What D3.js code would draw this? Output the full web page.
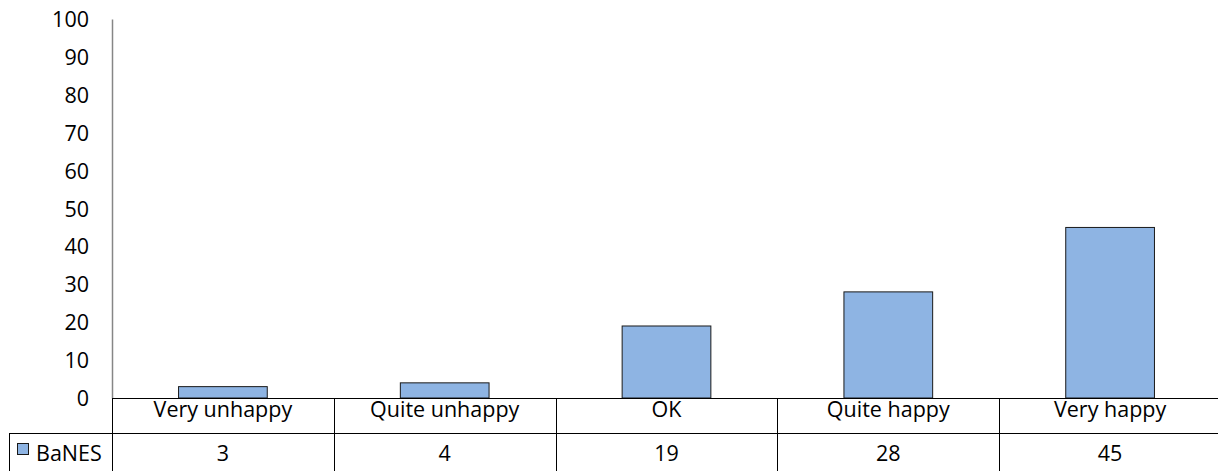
<!DOCTYPE html>
<html><head><meta charset="utf-8">
<script src="https://cdn.jsdelivr.net/npm/d3@7"></script>
<style>
html,body{margin:0;padding:0;background:#fff;}
svg{display:block;font-family:"Open Sans",sans-serif;}
</style></head>
<body>
<svg id="c" width="1218" height="471"></svg>
<script>
const categories = ["Very unhappy","Quite unhappy","OK","Quite happy","Very happy"];
const seriesName = "BaNES";
const values = [3,4,19,28,45];
const yTicks = [0,10,20,30,40,50,60,70,80,90,100];

(function(){
const svg = d3.select("#c");
const mLeft = 112, mRight = 1221, mTop = 19, base = 398;
const row1 = 433, row2 = 471;
const x = d3.scaleBand().domain(categories).range([mLeft, mRight]).padding(0);
const y = d3.scaleLinear().domain([0,100]).range([base, mTop]);
const font = 21.5;

// y axis
const ya = svg.append("g").attr("transform",`translate(${mLeft},0)`)
  .call(d3.axisLeft(y).tickValues(yTicks).tickSize(0).tickPadding(23));
ya.select(".domain").attr("stroke","#868686").attr("stroke-width",1.5);
ya.selectAll("text").attr("font-size",font).attr("fill","#000").attr("font-family","'Open Sans',sans-serif").attr("dy","0.35em");

// bars
const bw = x.bandwidth()*0.4;
svg.append("g").selectAll("rect").data(values).join("rect")
  .attr("x",(d,i)=>x(categories[i])+x.bandwidth()/2-bw/2)
  .attr("y",d=>y(d))
  .attr("width",bw)
  .attr("height",d=>y(0)-y(d))
  .attr("fill","#8EB4E3").attr("stroke","#1a1a1a").attr("stroke-width",1);

// table lines
const g = svg.append("g").attr("stroke","#000").attr("stroke-width",1).attr("shape-rendering","crispEdges");
g.append("line").attr("x1",mLeft).attr("x2",mRight).attr("y1",base+0.5).attr("y2",base+0.5);
g.append("line").attr("x1",9).attr("x2",mRight).attr("y1",row1+0.5).attr("y2",row1+0.5);
g.append("line").attr("x1",9.5).attr("x2",9.5).attr("y1",row1).attr("y2",row2);
categories.forEach((c,i)=>{
  if(i===0) return;
  const xx = Math.round(x(c))+0.5;
  g.append("line").attr("x1",xx).attr("x2",xx).attr("y1",base).attr("y2",row2);
});
g.append("line").attr("x1",mLeft+0.5).attr("x2",mLeft+0.5).attr("y1",base).attr("y2",row2);

// category labels
svg.append("g").selectAll("text").data(categories).join("text")
  .attr("x",d=>x(d)+x.bandwidth()/2).attr("y",417)
  .attr("text-anchor","middle").attr("font-size",font).attr("fill","#000").text(d=>d);
// values
svg.append("g").selectAll("text").data(values).join("text")
  .attr("x",(d,i)=>x(categories[i])+x.bandwidth()/2).attr("y",461)
  .attr("text-anchor","middle").attr("font-size",font).attr("fill","#000").text(d=>d);
// legend key
svg.append("rect").attr("x",17.5).attr("y",443.5).attr("width",11).attr("height",11)
  .attr("fill","#8EB4E3").attr("stroke","#1a1a1a").attr("stroke-width",1);
svg.append("text").attr("x",36).attr("y",461).attr("font-size",font).attr("fill","#000").text(seriesName);
})();
</script>
</body></html>
